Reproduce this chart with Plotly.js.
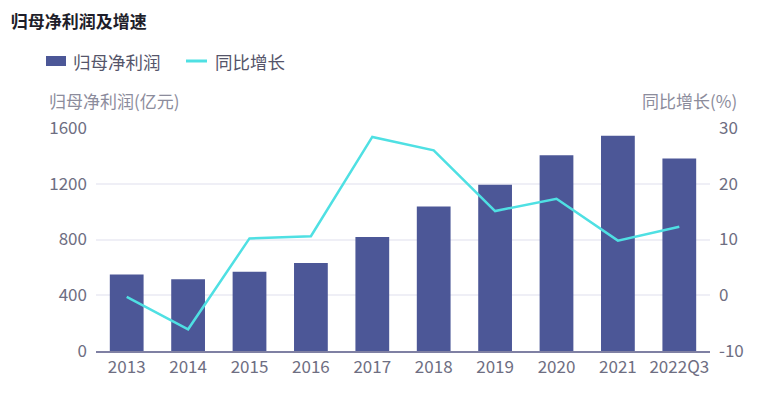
<!DOCTYPE html>
<html><head><meta charset="utf-8">
<script src="https://cdn.plot.ly/plotly-3.0.1.min.js"></script>
<style>html,body{margin:0;padding:0;background:#fff}#c{width:774px;height:398px}</style>
</head><body><div id="c"></div>
<script>
const categories = ['2013','2014','2015','2016','2017','2018','2019','2020','2021','2022Q3'];
const profit = [549, 515, 568, 632, 818, 1036, 1193, 1405, 1544, 1381];
const growth = [-0.3, -6.1, 10.2, 10.6, 28.4, 26.0, 15.1, 17.3, 9.8, 12.3];
const leftTicks = [0, 400, 800, 1200, 1600];
const rightTicks = [-10, 0, 10, 20, 30];
const seriesNames = ['归母净利润', '同比增长'];

const FONT = '"Noto Sans CJK SC", "Noto Sans", sans-serif';
const BAR = '#4c5797', LINE = '#4fe0e3';
// plot area in pixels: l=96, r=710, t=128, b=351
const PX = x => (x - 96) / 614, PY = y => (351 - y) / 223;

const traces = [
  {type:'bar', name:seriesNames[0], x:categories, y:profit, yaxis:'y',
   marker:{color:BAR, line:{width:0}}, width:0.55},
  {type:'scatter', mode:'lines', name:seriesNames[1], x:categories, y:growth, yaxis:'y2',
   line:{color:LINE, width:2.5}}
];
const layout = {
  width:774, height:398,
  margin:{l:96, r:64, t:128, b:47},
  paper_bgcolor:'#fff', plot_bgcolor:'#fff',
  font:{family:FONT, size:17, color:'#6e6e82'},
  title:{text:'<b>归母净利润及增速</b>', font:{family:FONT, size:17, color:'#1e1e2a'},
         xref:'container', yref:'container', x:0.014, xanchor:'left', y:0.945, yanchor:'middle'},
  showlegend:false,
  bargap:0.45,
  xaxis:{type:'category', tickfont:{size:17, color:'#6e6e82'}, showline:true, linecolor:'#7f80a3', linewidth:2,
         ticks:'', showgrid:false, zeroline:false, fixedrange:true},
  yaxis:{range:[0,1600], tickvals:leftTicks, ticktext:leftTicks.map(String), tickfont:{size:17, color:'#6e6e82'},
         showgrid:true, gridcolor:'#efeff6', gridwidth:2, zeroline:false, showline:false, ticks:'', ticklabelstandoff:8},
  yaxis2:{overlaying:'y', side:'right', range:[-10,30], tickvals:rightTicks, ticktext:rightTicks.map(String),
          tickfont:{size:17, color:'#6e6e82'}, showgrid:false, zeroline:false, showline:false, ticks:'', ticklabelstandoff:8},
  shapes:[
    {type:'rect', xref:'paper', yref:'paper', x0:PX(46), x1:PX(66), y0:PY(66), y1:PY(56), fillcolor:BAR, line:{width:0}},
    {type:'line', xref:'paper', yref:'paper', x0:PX(186), x1:PX(207), y0:PY(61), y1:PY(61), line:{color:LINE, width:3}}
  ],
  annotations:[
    {text:seriesNames[0], xref:'paper', yref:'paper', x:PX(71), y:PY(61), xanchor:'left', yanchor:'middle',
     showarrow:false, font:{family:FONT, size:17.5, color:'#55556a'}},
    {text:seriesNames[1], xref:'paper', yref:'paper', x:PX(213), y:PY(61), xanchor:'left', yanchor:'middle',
     showarrow:false, font:{family:FONT, size:17.5, color:'#55556a'}},
    {text:'归母净利润(亿元)', xref:'paper', yref:'paper', x:PX(47), y:PY(100), xanchor:'left', yanchor:'middle',
     showarrow:false, font:{family:FONT, size:17, color:'#8c8c9c'}},
    {text:'同比增长(%)', xref:'paper', yref:'paper', x:PX(739), y:PY(100), xanchor:'right', yanchor:'middle',
     showarrow:false, font:{family:FONT, size:17, color:'#8c8c9c'}}
  ]
};
Plotly.newPlot('c', traces, layout, {displayModeBar:false, staticPlot:true});
</script></body></html>
